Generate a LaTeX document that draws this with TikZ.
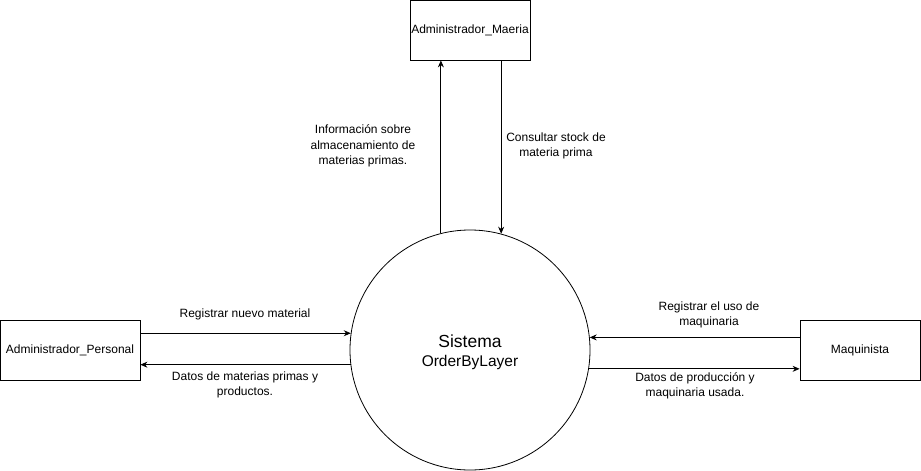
\documentclass[tikz,border=0pt]{standalone}
\usepackage{fontspec}
\setmainfont{Liberation Sans}
\usetikzlibrary{arrows.meta}

\begin{document}
\begin{tikzpicture}[x=1pt,y=-1pt,line width=0.8pt,>={Stealth[length=7pt,width=6pt]}]
\useasboundingbox (0,0) rectangle (921,471);
\tikzset{entidad/.style={draw,rectangle,minimum width=120pt,minimum height=60pt,inner sep=0pt,font=\fontsize{12}{14}\selectfont}}
\tikzset{etiqueta/.style={align=center,font=\fontsize{12}{15.5}\selectfont}}

\node[circle,draw,minimum size=240pt,inner sep=0pt] (sys) at (470,350) {};
\node[font=\fontsize{17.5}{20}\selectfont] (sysA) at (470,341) {Sistema};
\node[font=\fontsize{15.5}{18}\selectfont] (sysB) at (470,362) {OrderByLayer};

\node[entidad] (adm) at (470,30) {Administrador\_Maeria};
\node[entidad,minimum width=140pt] (per) at (70,350) {Administrador\_Personal};
\node[entidad] (maq) at (860,350) {Maquinista};

\draw[->] (sys.104.5) -- (sys.104.5 |- adm.south);
\draw[->] (adm.south -| sys.75.5) -- (sys.75.5);

\draw[->] (per.east |- sys.172.8) -- (sys.172.8);
\draw[->] (sys.187.7) -- (per.east |- sys.187.7);

\draw[->] (maq.west |- sys.6.2) -- (sys.6.2);
\draw[->] (sys.351.9) -- (maq.west |- sys.351.9);

\node[etiqueta] (l1) at (363,146) {Información sobre\\almacenamiento de\\materias primas.};
\node[etiqueta] (l2) at (556,146) {Consultar stock de\\materia prima};
\node[etiqueta] (l3) at (245,314) {Registrar nuevo material};
\node[etiqueta] (l4) at (245,385) {Datos de materias primas y\\productos.};
\node[etiqueta] (l5) at (709,315) {Registrar el uso de\\maquinaria};
\node[etiqueta] (l6) at (695,386) {Datos de producción y\\maquinaria usada.};
\end{tikzpicture}
\end{document}
